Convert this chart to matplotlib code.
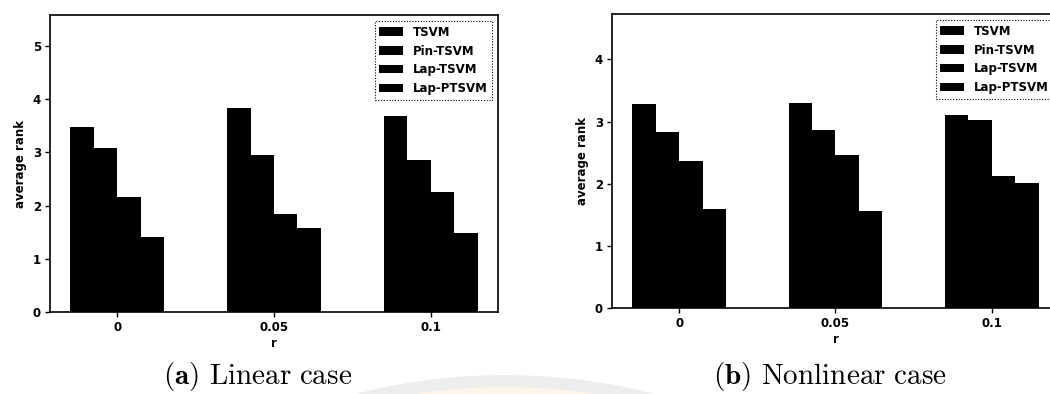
import numpy as np
import matplotlib
matplotlib.use("Agg")
import matplotlib.pyplot as plt
from matplotlib.patches import Ellipse

plt.rcParams["mathtext.fontset"] = "cm"

# Noise levels r and compared methods
r_labels = ["0", "0.05", "0.1"]
methods = ["TSVM", "Pin-TSVM", "Lap-TSVM", "Lap-PTSVM"]

# Average rank per method at each r
linear_tsvm = [3.48, 3.83, 3.68]
linear_pin_tsvm = [3.08, 2.95, 2.86]
linear_lap_tsvm = [2.17, 1.84, 2.26]
linear_lap_ptsvm = [1.40, 1.57, 1.48]

nonlinear_tsvm = [3.28, 3.30, 3.11]
nonlinear_pin_tsvm = [2.84, 2.87, 3.03]
nonlinear_lap_tsvm = [2.36, 2.46, 2.12]
nonlinear_lap_ptsvm = [1.60, 1.56, 2.02]

linear = [linear_tsvm, linear_pin_tsvm, linear_lap_tsvm, linear_lap_ptsvm]
nonlinear = [nonlinear_tsvm, nonlinear_pin_tsvm, nonlinear_lap_tsvm, nonlinear_lap_ptsvm]

W, H = 1050, 394
fig = plt.figure(figsize=(W / 100, H / 100), dpi=100)

# faint circular stamp behind the captions
cx, cy, rad = 505 / W, 1 - 976 / H, 601
fig.add_artist(Ellipse((cx, cy), 2 * rad / W, 2 * rad / H,
                       transform=fig.transFigure, facecolor="#ededed",
                       edgecolor="none", zorder=-5))
fig.add_artist(Ellipse((cx, cy), 2 * (rad - 12) / W, 2 * (rad - 12) / H,
                       transform=fig.transFigure, facecolor="#fdf5ea",
                       edgecolor="none", zorder=-4))


def draw_panel(ax, data, ytop, yticks):
    x = np.arange(len(r_labels))
    width = 0.15
    for i, (name, vals) in enumerate(zip(methods, data)):
        ax.bar(x + (i - 1.5) * width, vals, width=width, color="black",
               label=name)
    ax.set_xticks(x)
    ax.set_xticklabels(r_labels)
    ax.set_ylim(0, ytop)
    ax.set_yticks(yticks)
    ax.set_xlabel("r", fontsize=8.5, fontweight="bold", labelpad=2)
    ax.set_ylabel("average rank", fontsize=8.5, fontweight="bold", labelpad=4)
    ax.tick_params(labelsize=8.5, length=3.5, width=1.0, pad=3)
    for lab in ax.get_xticklabels() + ax.get_yticklabels():
        lab.set_fontweight("bold")
    for sp in ax.spines.values():
        sp.set_linewidth(1.2)
    leg = ax.legend(loc="upper right", fancybox=False, framealpha=1,
                    prop={"size": 8.5, "weight": "bold"},
                    borderaxespad=0.5, handlelength=2.0)
    frame = leg.get_frame()
    frame.set_edgecolor("black")
    frame.set_linewidth(0.8)
    frame.set_linestyle((0, (1, 1.5)))


ax1 = fig.add_axes([50 / W, 1 - 312 / H, 448 / W, 297 / H])
draw_panel(ax1, linear, 5.58, [0, 1, 2, 3, 4, 5])

ax2 = fig.add_axes([612 / W, 1 - 308.3 / H, 447 / W, 294.3 / H])
draw_panel(ax2, nonlinear, 4.73, [0, 1, 2, 3, 4])

fig.text(258 / W, 1 - 384 / H, r"$\mathbf{(a)}$ $\mathrm{Linear\ case}$",
         ha="center", va="baseline", fontsize=21)
fig.text(830 / W, 1 - 384 / H, r"$\mathbf{(b)}$ $\mathrm{Nonlinear\ case}$",
         ha="center", va="baseline", fontsize=21)

fig.savefig("out.png", dpi=100)
